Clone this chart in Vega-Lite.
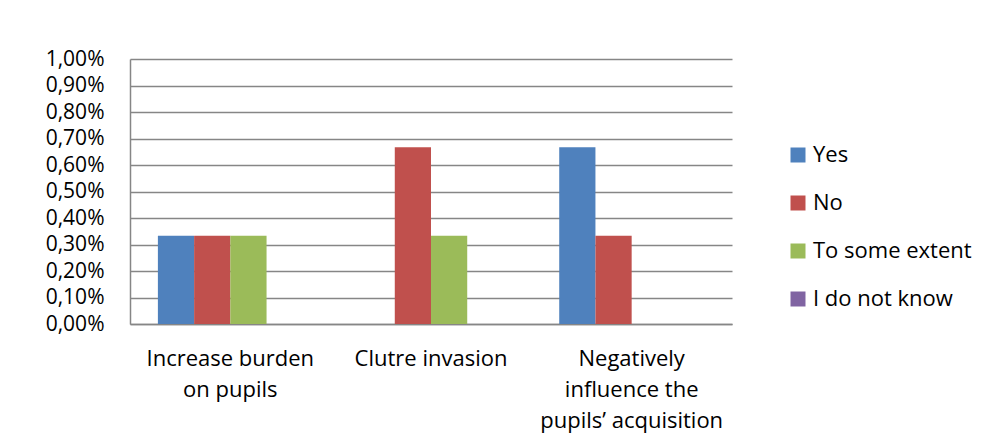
{
  "$schema": "https://vega.github.io/schema/vega-lite/v6.json",
  "width": 602,
  "height": 265,
  "autosize": {"type": "none"},
  "padding": {"left": 130, "top": 59, "right": 259, "bottom": 117},
  "background": "white",
  "config": {
    "view": {"stroke": null},
    "font": "Open Sans"
  },
  "data": {
    "values": [
      {"category": "Increase burden on pupils", "answer": "Yes", "value": 0.00333},
      {"category": "Increase burden on pupils", "answer": "No", "value": 0.00333},
      {"category": "Increase burden on pupils", "answer": "To some extent", "value": 0.00333},
      {"category": "Increase burden on pupils", "answer": "I do not know", "value": 0},
      {"category": "Clutre invasion", "answer": "Yes", "value": 0},
      {"category": "Clutre invasion", "answer": "No", "value": 0.00667},
      {"category": "Clutre invasion", "answer": "To some extent", "value": 0.00333},
      {"category": "Clutre invasion", "answer": "I do not know", "value": 0},
      {"category": "Negatively influence the pupils’ acquisition", "answer": "Yes", "value": 0.00667},
      {"category": "Negatively influence the pupils’ acquisition", "answer": "No", "value": 0.00333},
      {"category": "Negatively influence the pupils’ acquisition", "answer": "To some extent", "value": 0},
      {"category": "Negatively influence the pupils’ acquisition", "answer": "I do not know", "value": 0}
    ]
  },
  "mark": {"type": "bar"},
  "encoding": {
    "x": {
      "field": "category",
      "type": "nominal",
      "sort": null,
      "scale": {"paddingInner": 0, "paddingOuter": 0},
      "axis": {
        "title": null,
        "labelAngle": 0,
        "labelFontSize": 22,
        "labelColor": "#000000",
        "labelPadding": 24,
        "labelLineHeight": 31,
        "labelLimit": 300,
        "ticks": false,
        "domainColor": "#868686",
        "domainWidth": 1.5,
        "labelExpr": "datum.value == 'Increase burden on pupils' ? ['Increase burden', 'on pupils'] : datum.value == 'Clutre invasion' ? ['Clutre invasion'] : ['Negatively', 'influence the', 'pupils’ acquisition']"
      }
    },
    "xOffset": {
      "field": "answer",
      "type": "nominal",
      "sort": ["Yes", "No", "To some extent", "I do not know"],
      "scale": {"paddingInner": 0, "paddingOuter": 0.77}
    },
    "y": {
      "field": "value",
      "type": "quantitative",
      "scale": {"domain": [0, 0.01], "nice": false},
      "axis": {
        "title": null,
        "values": [0, 0.001, 0.002, 0.003, 0.004, 0.005, 0.006, 0.007, 0.008, 0.009, 0.01],
        "labelExpr": "replace(format(datum.value, '.2%'), '.', ',')",
        "labelFontSize": 21,
        "labelColor": "#000000",
        "labelPadding": 26,
        "ticks": false,
        "grid": true,
        "gridColor": "#868686",
        "gridWidth": 1.5,
        "domainColor": "#868686",
        "domainWidth": 1.5
      }
    },
    "color": {
      "field": "answer",
      "type": "nominal",
      "sort": ["Yes", "No", "To some extent", "I do not know"],
      "scale": {
        "domain": ["Yes", "No", "To some extent", "I do not know"],
        "range": ["#4F81BD", "#C0504D", "#9BBB59", "#8064A2"]
      },
      "legend": {
        "title": null,
        "orient": "none",
        "legendX": 657,
        "legendY": 85,
        "symbolType": "square",
        "symbolSize": 225,
        "symbolStrokeWidth": 0,
        "labelFontSize": 22,
        "labelColor": "#000000",
        "labelOffset": 4,
        "rowPadding": 26,
        "labelLimit": 300
      }
    }
  }
}
